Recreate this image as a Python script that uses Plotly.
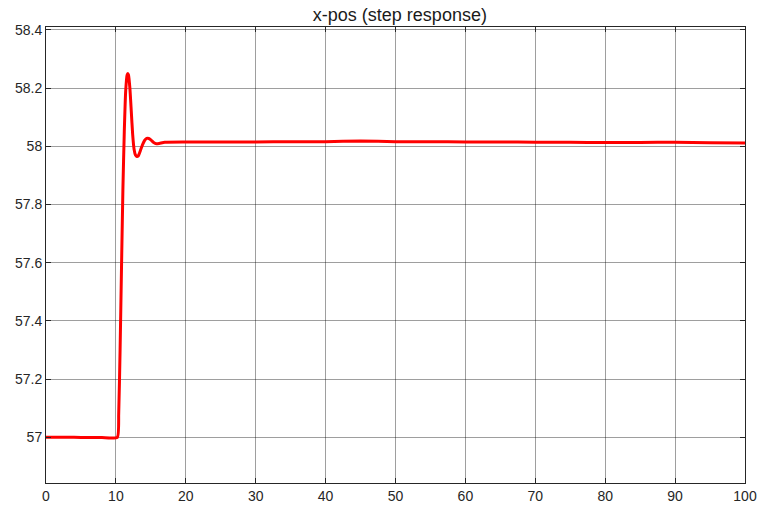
import plotly.graph_objects as go

t = [0, 2, 4, 6, 8, 10.2, 10.4, 10.6, 10.8, 11.0, 11.2, 11.4, 11.6, 11.7, 11.8, 12.0, 12.2, 12.4, 12.6,
     12.8, 13.0, 13.2, 13.5, 13.8, 14.1, 14.4, 14.7, 15.0, 15.4, 15.8, 16.2, 17, 20, 25, 30, 35, 40, 45,
     50, 55, 60, 65, 70, 75, 80, 85, 90, 95, 100]
xpos = [57.0, 57.0, 57.0, 56.999, 56.999, 57.0, 57.08, 57.3, 57.58, 57.85, 58.05, 58.19, 58.245, 58.25,
        58.245, 58.2, 58.12, 58.04, 57.99, 57.97, 57.965, 57.967, 57.985, 58.005, 58.02, 58.027, 58.027,
        58.022, 58.013, 58.009, 58.010, 58.014, 58.015, 58.015, 58.015, 58.016, 58.016, 58.018, 58.016,
        58.016, 58.015, 58.015, 58.014, 58.014, 58.013, 58.013, 58.014, 58.012, 58.011]

x_ticks = [0, 10, 20, 30, 40, 50, 60, 70, 80, 90, 100]
y_ticks = [57, 57.2, 57.4, 57.6, 57.8, 58, 58.2, 58.4]
y_labels = ["57", "57.2", "57.4", "57.6", "57.8", "58", "58.2", "58.4"]

fig = go.Figure()
fig.add_trace(go.Scatter(x=t, y=xpos, mode="lines", line=dict(color="#ff0000", width=3, shape="spline", smoothing=0.5),
                         showlegend=False))

axis_common = dict(showline=True, mirror="ticks", linecolor="#262626", linewidth=1,
                   ticks="inside", ticklen=5, tickcolor="#262626",
                   showgrid=True, gridcolor="rgba(0,0,0,0.38)", gridwidth=1, zeroline=False,
                   tickfont=dict(family="Liberation Sans, Arial, sans-serif", size=14, color="#262626"))

fig.update_layout(
    width=769, height=516,
    margin=dict(l=46, r=15, t=27, b=30),
    plot_bgcolor="white", paper_bgcolor="white",
    title=dict(text="x-pos (step response)", x=0.52, xanchor="center", y=0.972, yanchor="middle",
               font=dict(family="Liberation Sans, Arial, sans-serif", size=18, color="#1a1a1a")),
    xaxis=dict(range=[0, 100], tickvals=x_ticks, **axis_common),
    yaxis=dict(range=[56.843, 58.41], tickvals=y_ticks, ticktext=y_labels, **axis_common),
)

fig.write_html("out.html")
